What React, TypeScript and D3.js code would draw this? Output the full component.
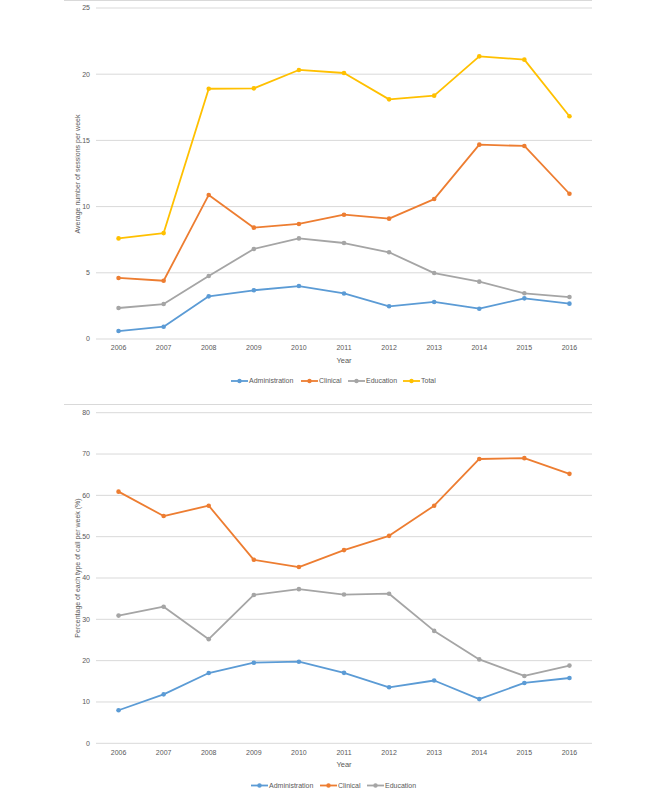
import React from "react";
import * as d3 from "d3";

const years = ["2006","2007","2008","2009","2010","2011","2012","2013","2014","2015","2016"];

// Chart 1: average number of sessions per week
const adminSessions = [0.6, 0.93, 3.22, 3.68, 4.0, 3.44, 2.47, 2.8, 2.29, 3.07, 2.67];
const clinicalSessions = [4.61, 4.4, 10.88, 8.41, 8.69, 9.39, 9.09, 10.57, 14.68, 14.58, 10.97];
const educationSessions = [2.34, 2.64, 4.76, 6.8, 7.6, 7.25, 6.55, 4.98, 4.33, 3.45, 3.17];
const totalSessions = [7.6, 8.0, 18.9, 18.93, 20.32, 20.09, 18.1, 18.38, 21.35, 21.1, 16.82];
const sessionTicks = [0, 5, 10, 15, 20, 25];

// Chart 2: percentage of each type of call per week
const adminPct = [8.0, 11.85, 17.0, 19.5, 19.75, 17.05, 13.55, 15.2, 10.7, 14.6, 15.8];
const clinicalPct = [60.9, 55.0, 57.5, 44.4, 42.65, 46.75, 50.2, 57.5, 68.8, 69.0, 65.2];
const educationPct = [30.9, 33.05, 25.2, 35.9, 37.3, 36.0, 36.2, 27.2, 20.3, 16.3, 18.8];
const pctTicks = [0, 10, 20, 30, 40, 50, 60, 70, 80];

const COLORS = { admin: "#5B9BD5", clinical: "#ED7D31", education: "#A5A5A5", total: "#FFC000" };
const TEXT = "#595959";
const GRID = "#D9D9D9";
const FONT = "'Liberation Sans', Arial, sans-serif";

type Series = { name: string; values: number[]; color: string };

function LineChart(props: {
  top: number; bottom: number; yMax: number; ticks: number[]; series: Series[];
  title: string; titleY: number; borderY: number; tickLabelY: number; yearY: number;
  legendY: number; legendX: number[];
}) {
  const { top, bottom, yMax, ticks, series, title, titleY, borderY, tickLabelY, yearY, legendY, legendX } = props;
  const x = d3.scaleBand<string>().domain(years).range([96, 592]);
  const cx = (yr: string) => (x(yr) as number) + x.bandwidth() / 2;
  const y = d3.scaleLinear().domain([0, yMax]).range([bottom, top]);
  const line = d3.line<number>().x((_, i) => cx(years[i])).y((v) => y(v));
  return (
    <g fontFamily={FONT}>
      <line x1={64} x2={592} y1={borderY} y2={borderY} stroke={GRID} strokeWidth={1} />
      {ticks.map((t) => (
        <g key={t}>
          <line x1={96} x2={592} y1={y(t)} y2={y(t)} stroke={GRID} strokeWidth={1} />
          <text x={90} y={y(t)} dy="0.35em" textAnchor="end" fontSize={7} fill={TEXT}>{t}</text>
        </g>
      ))}
      {years.map((yr) => (
        <text key={yr} x={cx(yr)} y={tickLabelY} dy="0.35em" textAnchor="middle" fontSize={7} fill={TEXT}>{yr}</text>
      ))}
      <text x={344} y={yearY} dy="0.35em" textAnchor="middle" fontSize={7.5} fill={TEXT}>Year</text>
      <text transform={`translate(78,${titleY}) rotate(-90)`} dy="0.35em" textAnchor="middle" fontSize={7} fill={TEXT}>{title}</text>
      {series.map((s) => (
        <g key={s.name}>
          <path d={line(s.values) as string} fill="none" stroke={s.color} strokeWidth={1.8} strokeLinejoin="round" />
          {s.values.map((v, i) => (
            <circle key={i} cx={cx(years[i])} cy={y(v)} r={2.3} fill={s.color} />
          ))}
        </g>
      ))}
      {series.map((s, i) => (
        <g key={s.name} transform={`translate(${legendX[i]},${legendY})`}>
          <line x1={0} x2={17} y1={0} y2={0} stroke={s.color} strokeWidth={1.8} />
          <circle cx={8.5} cy={0} r={2.2} fill={s.color} />
          <text x={18} y={0} dy="0.35em" fontSize={7} fill={TEXT}>{s.name}</text>
        </g>
      ))}
    </g>
  );
}

export default function App() {
  return (
    <svg width={666} height={799} style={{ position: "absolute", left: 0, top: 0, background: "#fff" }}>
      <rect width={666} height={799} fill="#fff" />
      <LineChart
        top={8} bottom={339} yMax={25} ticks={sessionTicks}
        series={[
          { name: "Administration", values: adminSessions, color: COLORS.admin },
          { name: "Clinical", values: clinicalSessions, color: COLORS.clinical },
          { name: "Education", values: educationSessions, color: COLORS.education },
          { name: "Total", values: totalSessions, color: COLORS.total },
        ]}
        title="Average number of sessions per week" titleY={174} borderY={0.5}
        tickLabelY={348} yearY={360} legendY={381} legendX={[231, 301, 348, 403]}
      />
      <LineChart
        top={412.7} bottom={743.3} yMax={80} ticks={pctTicks}
        series={[
          { name: "Administration", values: adminPct, color: COLORS.admin },
          { name: "Clinical", values: clinicalPct, color: COLORS.clinical },
          { name: "Education", values: educationPct, color: COLORS.education },
        ]}
        title="Percentage of each type of call per week (%)" titleY={568} borderY={404.5}
        tickLabelY={753} yearY={764} legendY={785.5} legendX={[251, 320, 367]}
      />
    </svg>
  );
}
